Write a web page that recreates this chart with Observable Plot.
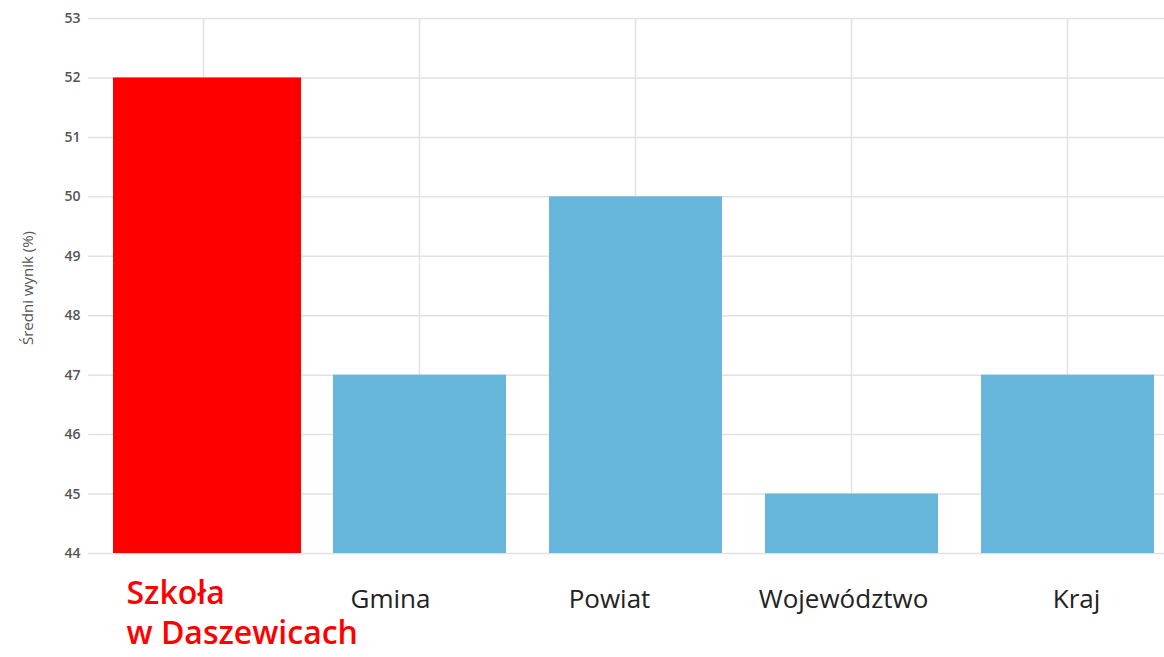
<!DOCTYPE html>
<html>
<head>
<meta charset="utf-8">
<script src="https://cdn.jsdelivr.net/npm/d3@7"></script>
<script src="https://cdn.jsdelivr.net/npm/@observablehq/plot@0.6"></script>
<style>
  html, body { margin: 0; padding: 0; background: #fff; }
  #chart svg [aria-label="y-axis tick label"] text { fill: #555; }
</style>
</head>
<body>
<div id="chart"></div>
<script>
// ---- Data ----
const categories = ["Szkoła\nw Daszewicach", "Gmina", "Powiat", "Województwo", "Kraj"];
const values = [52, 47, 50, 45, 47];
const yTicks = [44, 45, 46, 47, 48, 49, 50, 51, 52, 53];
const yDomain = [44, 53];
const yLabel = "Średni wynik (%)";
const highlight = "Szkoła\nw Daszewicach";

// ---- Build table ----
const rows = categories.map((c, i) => ({category: c, value: values[i]}));
const schoolRows = rows.filter(d => d.category === highlight);
const otherRows = rows.filter(d => d.category !== highlight);

// label style tweaks (horizontal nudges) kept in rendering code
const labelNudge = {"Gmina": -29, "Powiat": -26, "Województwo": -8, "Kraj": 9};

const labelMarks = otherRows.map(d =>
  Plot.text([d], {
    x: "category", text: "category", frameAnchor: "bottom",
    dy: 46, dx: labelNudge[d.category] || 0,
    lineAnchor: "middle", fontSize: 26, fill: "#222"
  })
);

const chart = Plot.plot({
  width: 1164,
  height: 657,
  marginTop: 18,
  marginBottom: 104,
  marginLeft: 88,
  marginRight: 0,
  style: {fontFamily: "'Open Sans', 'Noto Sans', sans-serif", background: "#fff", overflow: "hidden"},
  x: {domain: categories, range: [94, 1175], padding: 0, axis: null},
  y: {domain: yDomain, axis: null},
  marks: [
    Plot.gridY(yTicks, {stroke: "#e2e2e2", strokeOpacity: 1, strokeWidth: 1.5}),
    Plot.gridX(categories, {stroke: "#e2e2e2", strokeOpacity: 1, strokeWidth: 1.5}),
    Plot.barY(otherRows, {x: "category", y1: () => yDomain[0], y2: "value", fill: "#67b6dc", insetLeft: 22, insetRight: 21}),
    Plot.barY(schoolRows, {x: "category", y1: () => yDomain[0], y2: "value", fill: "#ff0000", insetLeft: 18, insetRight: 10}),
    Plot.axisY({ticks: yTicks, tickSize: 0, tickPadding: 8, fontSize: 14, fontWeight: 600, letterSpacing: 1.5, label: null}),
    Plot.text([yLabel], {
      text: d => d, frameAnchor: "left", textAnchor: "middle", rotate: -90, dx: -60, dy: 2,
      fontSize: 15, fill: "#555", letterSpacing: 3.6
    }),
    Plot.text(schoolRows, {
      x: "category", text: "category", frameAnchor: "bottom",
      dy: 22, dx: -77, textAnchor: "start", lineAnchor: "top",
      lineHeight: 1.25, fontSize: 32, fontWeight: 600, fill: "#ff0000"
    }),
    ...labelMarks
  ]
});

document.getElementById("chart").appendChild(chart);
</script>
</body>
</html>
